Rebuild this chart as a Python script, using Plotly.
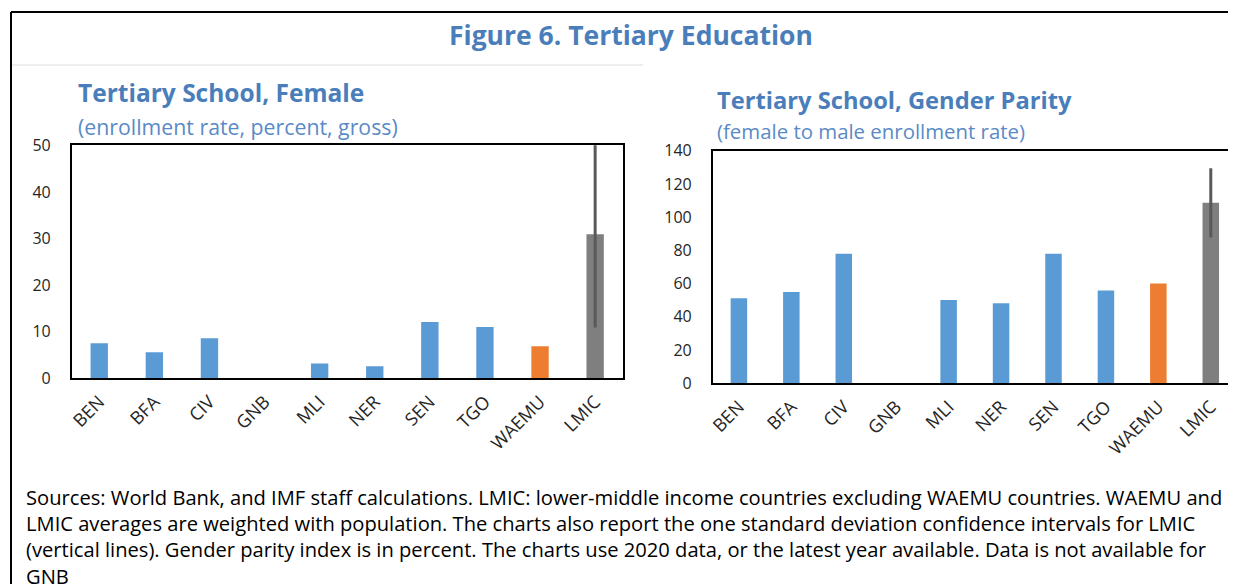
import plotly.graph_objects as go

W, H = 1236, 584
OFF = 8  # page offset of the plot div inside the browser window

categories = ["BEN", "BFA", "CIV", "GNB", "MLI", "NER", "SEN", "TGO", "WAEMU", "LMIC"]
countries = ["BEN", "BFA", "CIV", "GNB", "MLI", "NER", "SEN", "TGO"]

female_countries = [7.5, 5.6, 8.6, None, 3.2, 2.6, 12.1, 11.0]
female_waemu = [6.9]
female_lmic = [30.9]
female_lmic_sd = [20.0]

parity_countries = [51.2, 55.0, 78.0, None, 50.2, 48.2, 78.0, 55.8]
parity_waemu = [60.0]
parity_lmic = [108.6]
parity_lmic_sd = [20.8]

BLUE = "#5b9bd5"
ORANGE = "#ed7d31"
GRAY = "#7f7f7f"
TITLE = "#4a7ebb"
SUB = "#5a8ac6"
FONT = "Open Sans"


def px(x):
    return (x - OFF) / W


def py(y):
    return 1 - (y - OFF) / H


fig = go.Figure()


def add_chart(xa, ya, cvals, wval, lval, lsd):
    fig.add_trace(go.Bar(x=countries, y=cvals, marker=dict(color=BLUE, line=dict(width=0)),
                         xaxis=xa, yaxis=ya, showlegend=False))
    fig.add_trace(go.Bar(x=["WAEMU"], y=wval, marker=dict(color=ORANGE, line=dict(width=0)),
                         xaxis=xa, yaxis=ya, showlegend=False))
    fig.add_trace(go.Bar(x=["LMIC"], y=lval, marker=dict(color=GRAY, line=dict(width=0)),
                         error_y=dict(type="data", array=lsd, color="#595959", thickness=3, width=0),
                         xaxis=xa, yaxis=ya, showlegend=False))


add_chart("x", "y", female_countries, female_waemu, female_lmic, female_lmic_sd)
add_chart("x2", "y2", parity_countries, parity_waemu, parity_lmic, parity_lmic_sd)

ytickfont = dict(family=FONT, size=16, color="#262626")
xtickfont = dict(family=FONT, size=18, color="#262626")

fig.update_layout(
    template="none",
    width=W, height=H,
    margin=dict(l=0, r=0, t=0, b=0, autoexpand=False),
    paper_bgcolor="white", plot_bgcolor="white",
    barmode="overlay", bargap=0.685,
    xaxis=dict(domain=[px(71.7), px(622.7)], anchor="y", type="category",
               categoryorder="array", categoryarray=categories, automargin=False,
               tickangle=-45, tickfont=xtickfont, showline=True, linecolor="black",
               linewidth=2, mirror=True, showgrid=False, ticks="", ticklabelstandoff=4),
    yaxis=dict(domain=[py(378.3), py(145.3)], anchor="x", range=[0, 50], automargin=False,
               tickvals=[0, 10, 20, 30, 40, 50], tickfont=ytickfont,
               showline=True, linecolor="black", linewidth=1.5, mirror=True,
               showgrid=False, zeroline=False, ticks="", ticklabelstandoff=16),
    xaxis2=dict(domain=[px(712.7), px(1237)], anchor="y2", type="category",
                categoryorder="array", categoryarray=categories, automargin=False,
                tickangle=-45, tickfont=xtickfont, showline=True, linecolor="black",
                linewidth=2, mirror=True, showgrid=False, ticks="", ticklabelstandoff=4),
    yaxis2=dict(domain=[py(383.3), py(150.7)], anchor="x2", range=[0, 140], automargin=False,
                tickvals=[0, 20, 40, 60, 80, 100, 120, 140], tickfont=ytickfont,
                showline=True, linecolor="black", linewidth=1.5, mirror=False,
                showgrid=False, zeroline=False, ticks="", ticklabelstandoff=16),
)

# frame and separator
fig.add_shape(type="line", xref="paper", yref="paper", x0=px(11), x1=1, y0=py(12), y1=py(12),
              line=dict(color="black", width=2))
fig.add_shape(type="line", xref="paper", yref="paper", x0=px(11), x1=px(11), y0=py(12), y1=0,
              line=dict(color="black", width=2))
fig.add_shape(type="line", xref="paper", yref="paper", x0=px(12), x1=px(643), y0=py(65), y1=py(65),
              line=dict(color="#dddddd", width=1))

ann = []
ann.append(dict(text="<b>Figure 6. Tertiary Education</b>", x=px(631), y=py(35),
                xanchor="center", yanchor="middle",
                font=dict(family=FONT, size=26.5, color=TITLE)))
ann.append(dict(text="<b>Tertiary School, Female</b>", x=px(76), y=py(93),
                xanchor="left", yanchor="middle", font=dict(family=FONT, size=24.5, color=TITLE)))
ann.append(dict(text="(enrollment rate, percent, gross)", x=px(76), y=py(126),
                xanchor="left", yanchor="middle", font=dict(family=FONT, size=21.3, color=SUB)))
ann.append(dict(text="<b>Tertiary School, Gender Parity</b>", x=px(715), y=py(100),
                xanchor="left", yanchor="middle", font=dict(family=FONT, size=23.7, color=TITLE)))
ann.append(dict(text="(female to male enrollment rate)", x=px(715), y=py(131),
                xanchor="left", yanchor="middle", font=dict(family=FONT, size=20.4, color=SUB)))

foot = [
    "Sources: World Bank, and IMF staff calculations. LMIC: lower-middle income countries excluding WAEMU countries. WAEMU and",
    "LMIC averages are weighted with population. The charts also report the one standard deviation confidence intervals for LMIC",
    "(vertical lines). Gender parity index is in percent. The charts use 2020 data, or the latest year available. Data is not available for",
    "GNB",
]
ann.append(dict(text="<br>".join(foot), x=px(24), y=py(481), xanchor="left", yanchor="top",
                align="left", font=dict(family=FONT, size=20.15, color="black")))

for a in ann:
    a.update(xref="paper", yref="paper", showarrow=False)
fig.update_layout(annotations=ann)

fig.write_html("out.html")
